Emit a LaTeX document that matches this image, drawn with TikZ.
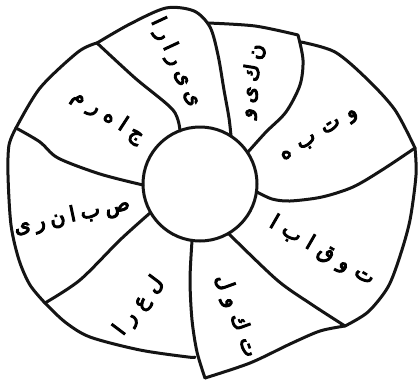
\documentclass[tikz,border=0pt]{standalone}
\usepackage{fontspec}
\newfontfamily\arabicfont[Script=Arabic,FakeBold=5]{DejaVu Sans}
\TeXXeTstate=1
\newcommand\gx[1]{\hspace{#1pt}}
\begin{document}
\begin{tikzpicture}[x=1pt,y=-1pt,
  petal/.style={draw=black!92, line width=3pt, line cap=round, line join=round},
  lbl/.style={font=\arabicfont\fontsize{21}{21}\selectfont, inner sep=0pt, text=black}]
\useasboundingbox (0,0) rectangle (420,383);
\fill[white] (0,0) rectangle (420,383);
% hub
\node[circle, petal, minimum size=114pt, inner sep=0pt] (hub) at (200,184) {};
% petal 1
\draw[petal] plot[smooth] coordinates {(180,131) (173,110) (135,78) (97,43)};
\draw[petal] plot[smooth] coordinates {(97,43) (130,24) (166,8) (194,11) (210,27) (218,55) (224,90) (229,118) (231,136)};
% petal 2
\draw[petal] plot[smooth] coordinates {(208,23) (255,26) (298,35)};
\draw[petal] plot[smooth] coordinates {(298,35) (303,60) (300,85) (286,112) (266,132) (248,152)};
% petal 3
\draw[petal] plot[smooth] coordinates {(301,42) (335,52) (367,79) (395,110) (415,148)};
\draw[petal] plot[smooth] coordinates {(257,192) (272,199) (290,201) (322,197) (353,187) (382,170) (415,148)};
% petal 4
\draw[petal] plot[smooth] coordinates {(415,148) (416,175) (410,220) (400,256) (388,287) (368,312) (345,326)};
\draw[petal] plot[smooth] coordinates {(229,234) (277,280) (311,304) (345,326)};
% petal 5
\draw[petal] plot[smooth] coordinates {(345,326) (320,331) (290,344) (250,363) (205,378)};
\draw[petal] plot[smooth] coordinates {(192,241) (190,280) (192,320) (197,352) (205,378)};
% petal 6
\draw[petal] plot[smooth] coordinates {(45,303) (65,322) (90,337) (140,350) (188,357) (195,357)};
\draw[petal] plot[smooth] coordinates {(150,213) (120,240) (80,280) (45,303)};
% petal 7
\draw[petal] plot[smooth] coordinates {(16,128) (9,145) (8,175) (11,225) (19,260) (30,285) (45,303)};
\draw[petal] plot[smooth] coordinates {(16,128) (40,142) (58,158) (100,174) (143,185)};
% petal 8
\draw[petal] plot[smooth] coordinates {(16,128) (40,88) (78,52) (97,43)};
% labels
\node[lbl, rotate=-65] (t1) at (176,62) {\beginR ى\gx{6}ى\gx{6}ر\gx{6}ا\gx{6}ر\gx{6}ا\endR};
\node[lbl, rotate=81] (t2) at (252,81) {\beginR ن\gx{5}ك\gx{5}ى\gx{5}و\endR};
\node[lbl, rotate=32] (t3) at (320,136) {\beginR و\gx{9}ت\gx{9}ب\gx{9}ە\endR};
\node[lbl, rotate=-30] (t4) at (322,251) {\beginR ت\gx{8}و\gx{8}ق\gx{8}ا\gx{8}ب\gx{8}ا\endR};
\node[lbl, rotate=-70] (t5) at (236,316) {\beginR ت\gx{8}ك\gx{8}و\gx{8}ل\endR};
\node[lbl, rotate=53] (t6) at (139,306) {\beginR ل\gx{8}ع\gx{8}ر\gx{8}ا\endR};
\node[lbl, rotate=12] (t7) at (72,216) {\beginR ص\gx{5}ب\gx{5}ا\gx{5}ن\gx{5}ر\gx{5}ى\endR};
\node[lbl, rotate=-33] (t8) at (108,116) {\beginR ج\gx{7}ا\gx{7}ە\gx{7}ر\gx{7}م\endR};
\end{tikzpicture}
\end{document}
